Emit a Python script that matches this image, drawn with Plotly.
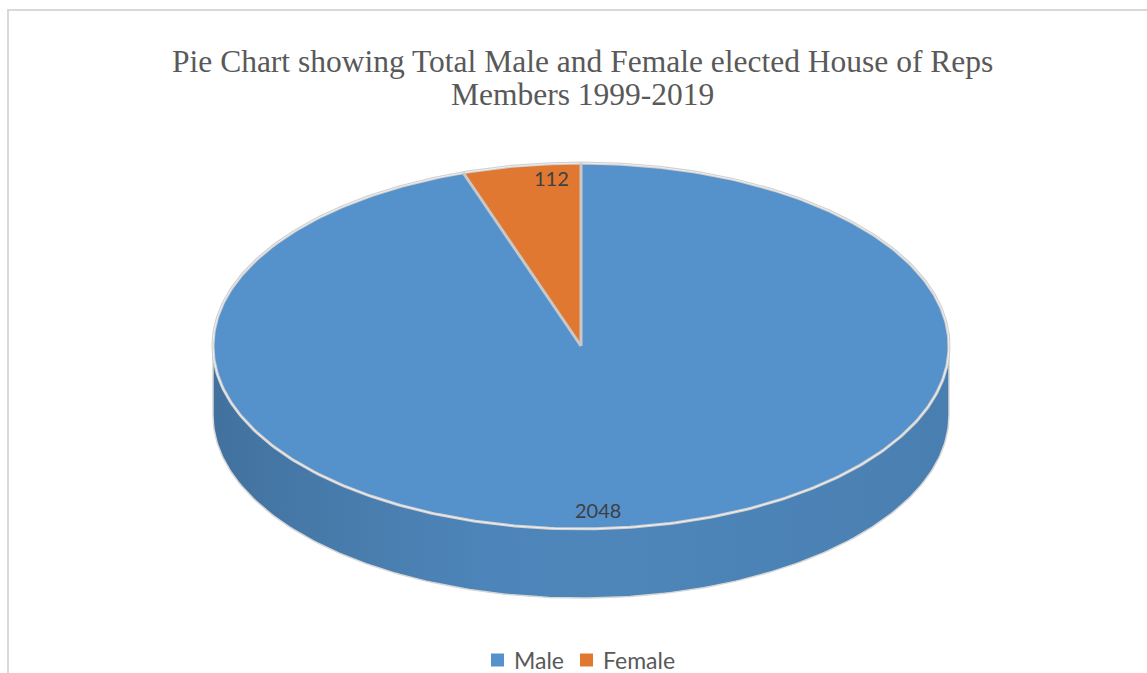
import numpy as np
import plotly.graph_objects as go

# ---- data ----
categories = ["Male", "Female"]
members = [2048, 112]
slice_colors = ["#5592CB", "#E07832"]
label_shift_px = [-38, 25]          # horizontal nudge for each data label

title_lines = [
    "Pie Chart showing Total Male and Female elected House of Reps",
    "Members 1999-2019",
]

W, H = 1147, 673

# ---- 3-D pie geometry (data units; the x axis spans one radius = 1) ----
RX, RY, DEPTH = 1.0, 0.497, 0.188
EDGE = "#CFCFCF"

values = np.array(members, dtype=float)
sweep = values / values.sum() * 360.0
ends = np.cumsum(sweep)
starts = ends - sweep


def rim(theta_deg, drop=0.0, scale=1.0):
    """Point on the elliptical rim, angle measured clockwise from 12 o'clock."""
    t = np.radians(theta_deg)
    return RX * scale * np.sin(t), RY * scale * np.cos(t) - drop


def shade(hex_color, f):
    h = hex_color.lstrip("#")
    r, g, b = (int(h[k:k + 2], 16) for k in (0, 2, 4))
    return "rgb({},{},{})".format(int(r * f), int(g * f), int(b * f))


# lighting across the front wall, from its left edge (0) to its right edge (1)
light_pos = [0.0, 0.2, 0.4, 0.7, 1.0]
light_val = [0.78, 0.86, 0.925, 0.91, 0.87]

fig = go.Figure()

# Side wall: visible front half of the disc (angles 90..270), one piece per slice
for s, e, col in zip(starts, ends, slice_colors):
    a0, a1 = max(s, 90.0), min(e, 270.0)
    if a1 <= a0:
        continue
    arc = np.linspace(a0, a1, 200)
    tx, ty = rim(arc)
    bx, by = rim(arc[::-1], drop=DEPTH)
    xs = np.concatenate([tx, bx])
    ys = np.concatenate([ty, by])
    lo, hi = xs.min(), xs.max()
    stops = np.linspace(0, 1, 9)
    wall_x = lo + stops * (hi - lo)
    f = np.interp((wall_x + RX) / (2 * RX), light_pos, light_val)
    scale = [[p, shade(col, v)] for p, v in zip(stops, f)]
    fig.add_trace(go.Scatter(
        x=xs, y=ys, fill="toself", mode="lines",
        fillgradient=dict(type="horizontal", colorscale=scale),
        line=dict(width=0), hoverinfo="skip", showlegend=False))

# Outline of the side wall
arc = np.linspace(90, 270, 200)
bx, by = rim(arc, drop=DEPTH)
fig.add_trace(go.Scatter(x=bx, y=by, mode="lines",
                         line=dict(color="#D6D6D6", width=1.5),
                         hoverinfo="skip", showlegend=False))
for a in (90, 270):
    tx, ty = rim(a)
    fig.add_trace(go.Scatter(x=[tx, tx], y=[ty, ty - DEPTH], mode="lines",
                             line=dict(color="#D6D6D6", width=1.5),
                             hoverinfo="skip", showlegend=False))

# Top faces of the slices
for s, e, col in zip(starts, ends, slice_colors):
    arc = np.linspace(s, e, max(int(e - s) * 2, 8))
    ax, ay = rim(arc)
    fig.add_trace(go.Scatter(
        x=np.concatenate([[0], ax, [0]]), y=np.concatenate([[0], ay, [0]]),
        fill="toself", fillcolor=col, mode="lines", name="",
        line=dict(color=col, width=0), hoverinfo="skip", showlegend=False))

# Rim outline and slice separators
arc = np.linspace(0, 360, 400)
ox, oy = rim(arc)
fig.add_trace(go.Scatter(x=ox, y=oy, mode="lines",
                         line=dict(color=EDGE, width=3),
                         hoverinfo="skip", showlegend=False))
fig.add_trace(go.Scatter(x=ox, y=oy, mode="lines",
                         line=dict(color="#EFEFEF", width=1),
                         hoverinfo="skip", showlegend=False))
for a in starts:
    px, py = rim(a)
    fig.add_trace(go.Scatter(x=[0, px], y=[0, py], mode="lines",
                             line=dict(color="#C8C8C8", width=3),
                             hoverinfo="skip", showlegend=False))

# Data labels near the outer end of each slice
annotations = []
for s, e, v, dx in zip(starts, ends, members, label_shift_px):
    lx, ly = rim(0.5 * (s + e), scale=0.92)
    annotations.append(dict(x=lx, y=ly, xref="x", yref="y", text=str(v),
                            showarrow=False, xshift=dx, yshift=2,
                            font=dict(family="Lato", size=20, color="#404040")))

# Title
for txt, ypx in zip(title_lines, (61, 95)):
    annotations.append(dict(x=583 / W, y=1 - ypx / H, xref="paper", yref="paper",
                            text=txt, showarrow=False, xanchor="center", yanchor="middle",
                            font=dict(family="Liberation Serif", size=31.5, color="#595959")))

# Legend row along the bottom: colour key square followed by the category name
shapes = [dict(type="rect", xref="paper", yref="paper",
               x0=8 / W, x1=1.02, y0=-0.02, y1=1 - 10 / H,
               line=dict(color="#D9D9D9", width=2), fillcolor="rgba(0,0,0,0)",
               layer="below")]
legend_y = 660
key_x = [491, 580]       # left edge of each key square (px)
key_size = 13
for name, col, kx in zip(categories, slice_colors, key_x):
    shapes.append(dict(type="rect", xref="paper", yref="paper",
                       x0=kx / W, x1=(kx + key_size) / W,
                       y0=1 - (legend_y + key_size / 2) / H,
                       y1=1 - (legend_y - key_size / 2) / H,
                       line=dict(width=0), fillcolor=col))
    annotations.append(dict(x=(kx + key_size + 8) / W, y=1 - legend_y / H,
                            xref="paper", yref="paper", text=name, showarrow=False,
                            xanchor="left", yanchor="middle",
                            font=dict(family="Lato", size=23, color="#595959")))

px_per_unit = 368.0
cx_px, cy_px = 581.0, 346.0

fig.update_layout(
    width=W, height=H,
    margin=dict(l=0, r=0, t=0, b=0),
    paper_bgcolor="white", plot_bgcolor="white",
    xaxis=dict(range=[-cx_px / px_per_unit, (W - cx_px) / px_per_unit],
               visible=False, fixedrange=True),
    yaxis=dict(range=[(cy_px - H) / px_per_unit, cy_px / px_per_unit],
               visible=False, fixedrange=True),
    showlegend=False,
    annotations=annotations,
    shapes=shapes,
)

fig.write_html("out.html")
